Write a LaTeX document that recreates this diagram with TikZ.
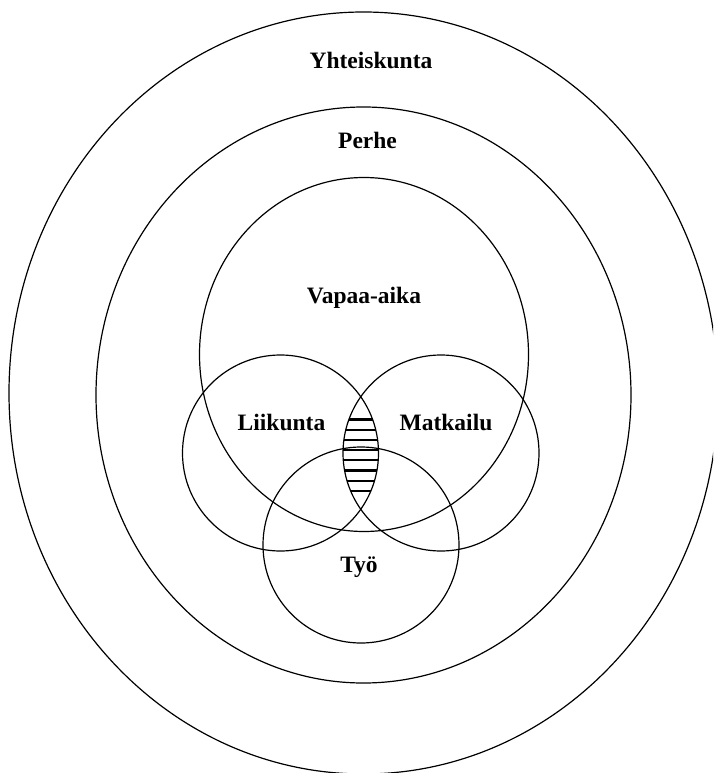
\documentclass[tikz,border=0pt]{standalone}
\usepackage{fontspec}
\setmainfont{Liberation Serif}
\begin{document}
\begin{tikzpicture}[x=1pt,y=-1pt,
  ring/.style={draw=black, line width=1.2pt},
  hatchline/.style={draw=black, line width=2.3pt},
  lbl/.style={font=\fontsize{23.5}{28}\selectfont\bfseries, inner sep=0pt, anchor=base}]
\useasboundingbox (0,0) rectangle (713,773);
\clip (0,0) rectangle (713,773);
% rings
\draw[ring] (363.5,393) ellipse [x radius=354.5, y radius=381];
\draw[ring] (363.5,395) ellipse [x radius=267.5, y radius=288];
\draw[ring] (364,354.5) ellipse [x radius=164.5, y radius=177];
\draw[ring] (280.5,453) circle [radius=98];
\draw[ring] (441,453) circle [radius=98];
\draw[ring] (361,545) circle [radius=98];
% hatching in the lens
\begin{scope}
  \clip (280.5,453) circle [radius=98];
  \clip (441,453) circle [radius=98];
  \foreach \yy in {419.5,429.7,439.9,450.1,460.3,470.5,480.7,490.9}
    \draw[hatchline] (330,\yy) -- (395,\yy);
\end{scope}
% labels
\node[lbl] (yht) at (371,68.5) {Yhteiskunta};
\node[lbl] (per) at (367.5,148.5) {Perhe};
\node[lbl] (vap) at (364,303) {Vapaa-aika};
\node[lbl] (lii) at (281.5,430.5) {Liikunta};
\node[lbl] (mat) at (446,430.5) {Matkailu};
\node[lbl] (tyo) at (359,572.5) {Työ};
\end{tikzpicture}
\end{document}
